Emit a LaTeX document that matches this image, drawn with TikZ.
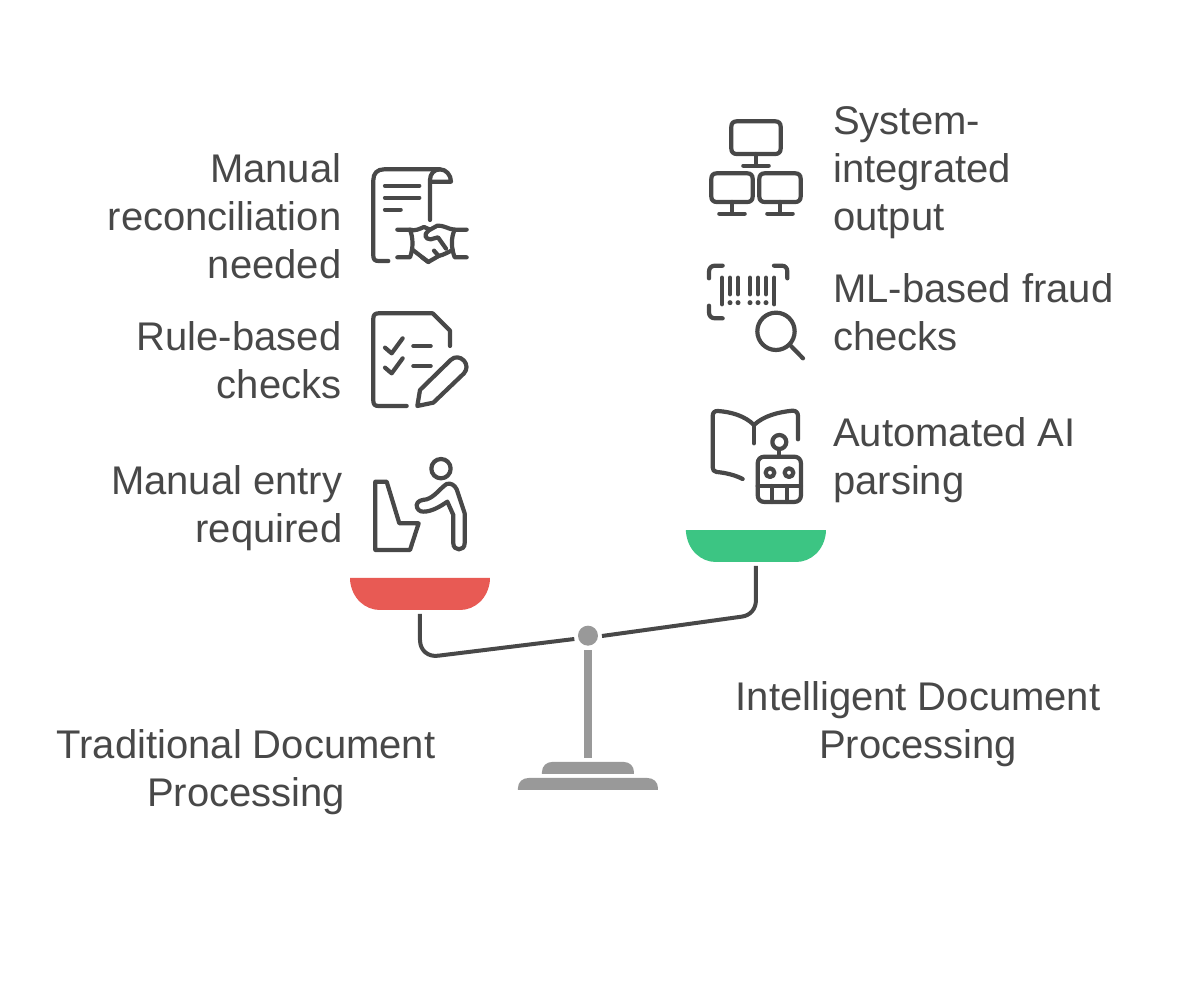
\documentclass[tikz,border=0pt]{standalone}
\usepackage{fontspec}
\setmainfont{Liberation Sans}
\definecolor{ink}{HTML}{484848}
\definecolor{beam}{HTML}{999999}
\definecolor{panred}{HTML}{E85A54}
\definecolor{pangreen}{HTML}{3CC583}
\tikzset{
  lab/.style={inner sep=0pt,text=ink,font=\fontsize{40}{48}\selectfont},
  labl/.style={lab,align=left,anchor=base west},
  labr/.style={lab,align=right,anchor=base east},
  labc/.style={lab,align=center,anchor=base},
  ico/.style={draw=ink,line width=4.2pt,line cap=round,line join=round},
  arm/.style={draw=ink,line width=4pt},
}
\begin{document}
\begin{tikzpicture}[x=1pt,y=-1pt]
\useasboundingbox (0,0) rectangle (1188,1008);
\fill[white] (0,0) rectangle (1188,1008);
% labels
\node[labr] (t1) at (341.5,278.5) {Manual\\reconciliation\\needed};
\node[labr] (t2) at (341.5,398.5) {Rule-based\\checks};
\node[labr] (t3) at (342.5,542.5) {Manual entry\\required};
\node[labl] (t4) at (833,230.5) {System-\\integrated\\output};
\node[labl] (t5) at (833,350.5) {ML-based fraud\\checks};
\node[labl] (t6) at (833,494.5) {Automated AI\\parsing};
\node[labc] (t7) at (918,758.5) {Intelligent Document\\Processing};
\node[labc] (t8) at (246,806.5) {Traditional Document\\Processing};
% scale
\begin{scope}[shift={(340,520)},x=0.3333pt,y=-0.3333pt]
\fill[panred] (30,174) -- (450,174) -- (450,180) .. controls (445,235) and (405,270) .. (360,270) -- (120,270) .. controls (75,270) and (35,235) .. (30,180) -- cycle;
\fill[pangreen] (1038,30) -- (1458,30) -- (1458,36) .. controls (1453,91) and (1413,126) .. (1368,126) -- (1128,126) .. controls (1083,126) and (1043,91) .. (1038,36) -- cycle;
\draw[arm] (240,282) -- (240,360) .. controls (240,392) and (265,412) .. (296,407) -- (703,357);
\draw[arm] (1248,138) -- (1248,240) .. controls (1248,268) and (1230,287) .. (1205,290) -- (786,348);
\fill[beam] (744,347) circle[radius=30];
\fill[beam] (732,390) rectangle (756,714);
\fill[beam] (606,762) -- (606,756) .. controls (606,738) and (620,726) .. (636,726) -- (852,726) .. controls (868,726) and (882,738) .. (882,756) -- (882,762) -- cycle;
\fill[beam] (534,810) -- (534,804) .. controls (534,786) and (548,774) .. (566,774) -- (922,774) .. controls (940,774) and (954,786) .. (954,804) -- (954,810) -- cycle;
\end{scope}
% icon: handshake document
\begin{scope}[shift={(360,160)},x=0.3333pt,y=-0.3333pt]
\draw[ico] (85,303) -- (55,303) .. controls (45,303) and (40,298) .. (40,288) -- (40,60) .. controls (40,40) and (52,28) .. (72,28) -- (240,28) .. controls (258,28) and (273,45) .. (273,65) -- (212,65);
\draw[ico] (210,180) -- (210,60) .. controls (210,42) and (222,28) .. (240,28);
\draw[ico] (75,77) -- (178,77) (75,113) -- (178,113) (75,149) -- (122,149);
\draw[ico] (112,209) -- (150,209) .. controls (160,235) and (160,265) .. (150,292) -- (112,292);
\draw[ico] (320,209) -- (284,209) .. controls (272,235) and (274,265) .. (284,292) -- (320,292);
\draw[ico] (150,209) .. controls (165,214) and (178,207) .. (192,201) (192,201) -- (208,208);
\draw[ico] (284,209) .. controls (265,208) and (250,195) .. (232,197) -- (205,212);
\draw[ico] (156,268) -- (205,306) -- (236,288) .. controls (250,285) and (268,275) .. (278,270);
\draw[ico] (205,212) .. controls (190,224) and (196,238) .. (212,238) -- (234,232) -- (258,266);
\draw[ico] (205,306) -- (186,292) (236,288) -- (222,272);
\end{scope}
% icon: checklist
\begin{scope}[shift={(360,300)},x=0.3333pt,y=-0.3333pt]
\draw[ico] (140,318) -- (55,318) .. controls (45,318) and (40,313) .. (40,303) -- (40,55) .. controls (40,45) and (45,40) .. (55,40) -- (218,40) -- (270,92) -- (270,138);
\draw[ico] (75,143) -- (95,160) -- (128,115);
\draw[ico] (75,203) -- (95,220) -- (128,175);
\draw[ico] (160,138) -- (212,138) (160,198) -- (212,198);
\draw[ico] (172,318) -- (180,270) -- (272,180) .. controls (285,168) and (300,170) .. (312,182) .. controls (322,194) and (322,208) .. (312,220) -- (220,308) -- cycle;
\end{scope}
% icon: person at seat
\begin{scope}[shift={(360,450)},x=0.3333pt,y=-0.3333pt]
\draw[ico] (46,95) -- (80,95) -- (118,220) -- (176,220) -- (150,300) -- (46,300) -- cycle;
\draw[ico] (243,56) circle[radius=29];
\draw[ico] (170,165) .. controls (172,152) and (185,150) .. (200,148) .. controls (225,140) and (240,115) .. (260,102) .. controls (272,98) and (284,105) .. (290,118) -- (314,190) -- (314,280) .. controls (314,304) and (280,304) .. (280,280) -- (280,195) -- (262,155) .. controls (240,170) and (215,185) .. (190,185) .. controls (178,185) and (170,177) .. (170,165) -- cycle;
\end{scope}
% icon: monitors
\begin{scope}[shift={(700,110)},x=0.3333pt,y=-0.3333pt]
\draw[ico] (110,34) -- (226,34) .. controls (236,34) and (242,40) .. (242,50) -- (242,116) .. controls (242,126) and (236,132) .. (226,132) -- (110,132) .. controls (100,132) and (94,126) .. (94,116) -- (94,50) .. controls (94,40) and (100,34) .. (110,34) -- cycle;
\draw[ico] (168,132) -- (168,167) (130,167) -- (206,167);
\draw[ico] (50,190) -- (142,190) .. controls (152,190) and (158,196) .. (158,206) -- (158,260) .. controls (158,270) and (152,276) .. (142,276) -- (50,276) .. controls (40,276) and (34,270) .. (34,260) -- (34,206) .. controls (34,196) and (40,190) .. (50,190) -- cycle;
\draw[ico] (96,276) -- (96,311) (58,311) -- (134,311);
\draw[ico] (194,190) -- (286,190) .. controls (296,190) and (302,196) .. (302,206) -- (302,260) .. controls (302,270) and (296,276) .. (286,276) -- (194,276) .. controls (184,276) and (178,270) .. (178,260) -- (178,206) .. controls (178,196) and (184,190) .. (194,190) -- cycle;
\draw[ico] (240,276) -- (240,311) (202,311) -- (278,311);
\end{scope}
% icon: barcode search
\begin{scope}[shift={(700,255)},x=0.3333pt,y=-0.3333pt]
\draw[ico] (68,32) -- (45,32) .. controls (34,32) and (27,39) .. (27,50) -- (27,70);
\draw[ico] (222,32) -- (245,32) .. controls (256,32) and (262,39) .. (262,50) -- (262,70);
\draw[ico] (27,152) -- (27,172) .. controls (27,183) and (34,190) .. (45,190) -- (68,190);
\draw[ico] (66,68) -- (66,148) (223,68) -- (223,148);
\foreach \bx in {90,114,150,174,198} {
  \draw[ico] (\bx,68) -- (\bx,118);
  \fill[ink] (\bx,143) circle[radius=7.5];
}
\draw[ico] (228,229) circle[radius=56];
\draw[ico] (272,272) -- (309,310);
\end{scope}
% icon: book robot
\begin{scope}[shift={(700,400)},x=0.3333pt,y=-0.3333pt]
\draw[ico] (128,237) .. controls (105,225) and (75,218) .. (50,216) .. controls (42,215) and (38,210) .. (38,202) -- (38,48) .. controls (38,38) and (44,32) .. (54,33) .. controls (95,36) and (135,48) .. (162,75) .. controls (190,48) and (235,36) .. (278,32) .. controls (288,32) and (294,38) .. (294,48) -- (294,118);
\draw[ico] (162,75) -- (162,130);
\draw[ico] (238,126) circle[radius=21];
\draw[ico] (238,147) -- (238,170);
\draw[ico] (194,170) -- (282,170) .. controls (295,170) and (303,178) .. (303,191) -- (303,285) .. controls (303,298) and (295,306) .. (282,306) -- (194,306) .. controls (181,306) and (173,298) .. (173,285) -- (173,191) .. controls (173,178) and (181,170) .. (194,170) -- cycle;
\draw[ico] (173,258) -- (303,258) (216,258) -- (216,306) (260,258) -- (260,306);
\draw[ico] (210,218) circle[radius=13] (267,218) circle[radius=13];
\end{scope}
\end{tikzpicture}
\end{document}
